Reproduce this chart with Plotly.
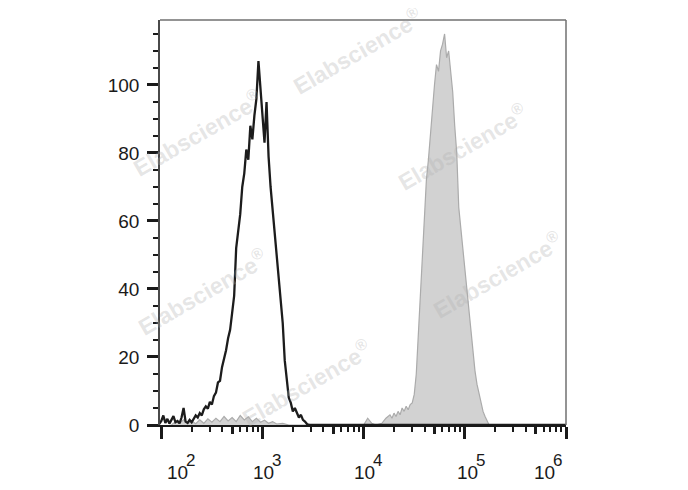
import plotly.graph_objects as go

# ---- data (log10 of fluorescence intensity, count) ----
black_log = [1.98, 2.00, 2.02, 2.04, 2.06, 2.08, 2.10, 2.12, 2.14, 2.16, 2.18, 2.20, 2.22, 2.24, 2.26,
             2.28, 2.30, 2.32, 2.34, 2.36, 2.38, 2.40, 2.42, 2.44, 2.46, 2.48, 2.50, 2.52, 2.54, 2.56,
             2.58, 2.60, 2.62, 2.64, 2.66, 2.68, 2.70, 2.72, 2.74, 2.76, 2.78, 2.80, 2.82, 2.84, 2.86,
             2.88, 2.90, 2.92, 2.94, 2.96, 2.98, 3.00, 3.02, 3.04, 3.06, 3.08, 3.10, 3.12, 3.14, 3.16,
             3.18, 3.20, 3.22, 3.24, 3.26, 3.28, 3.30, 3.32, 3.34, 3.36, 3.38, 3.40, 3.42, 3.44, 3.46,
             6.00]
black_cnt = [0.3, 1.2, 2.8, 0.6, 1.8, 0.4, 1.5, 2.6, 0.8, 1.2, 0.5, 2.2, 5.0, 1.0, 0.6,
             1.5, 0.8, 2.0, 2.8, 2.2, 3.5, 2.8, 4.6, 5.5, 4.8, 6.8, 6.0, 8.5, 9.5, 12.5,
             13.0, 17.0, 19.5, 22.0, 25.5, 28.0, 33.0, 38.0, 52.0, 57.0, 62.0, 70.0, 74.0, 81.0, 78.0,
             88.0, 84.0, 91.0, 96.0, 107.0, 98.0, 91.0, 83.0, 95.0, 79.0, 70.0, 63.0, 56.0, 50.0, 44.0,
             37.0, 30.0, 19.0, 13.0, 8.0, 6.5, 4.0, 5.0, 3.5, 2.2, 3.0, 1.5, 1.0, 0.3, 0.0,
             0.0]

gray_log = [2.10, 2.14, 2.18, 2.22, 2.26, 2.30, 2.34, 2.38, 2.42, 2.46, 2.50, 2.54, 2.58, 2.62, 2.66,
            2.70, 2.74, 2.78, 2.82, 2.86, 2.90, 2.94, 2.98, 3.02, 3.06, 3.10, 3.14, 3.20, 3.26, 4.00,
            4.04, 4.08, 4.12, 4.18, 4.22, 4.26, 4.28, 4.30, 4.32, 4.34, 4.36, 4.38, 4.40, 4.42, 4.44,
            4.46, 4.48, 4.50, 4.52, 4.54, 4.56, 4.58, 4.60, 4.62, 4.64, 4.66, 4.68, 4.70, 4.72, 4.74,
            4.76, 4.78, 4.80, 4.82, 4.84, 4.86, 4.88, 4.90, 4.92, 4.94, 4.96, 4.98, 5.00, 5.02, 5.04,
            5.06, 5.08, 5.10, 5.12, 5.14, 5.16, 5.18, 5.20, 5.22, 5.24, 6.00]
gray_cnt = [0.0, 1.0, 0.5, 1.5, 0.5, 1.2, 0.4, 1.5, 0.5, 1.8, 0.8, 2.0, 1.0, 2.5, 1.2,
            2.2, 1.0, 2.8, 1.5, 2.4, 1.0, 2.0, 0.8, 1.4, 0.5, 1.0, 0.3, 0.5, 0.0, 0.0,
            2.0, 0.5, 0.0, 0.5, 2.0, 3.0, 2.0, 3.5, 2.5, 4.0, 3.0, 5.0, 4.0, 5.5, 4.5,
            6.0, 6.5, 9.0, 15.0, 27.0, 38.0, 48.0, 60.0, 72.0, 78.0, 86.0, 92.0, 100.0, 106.0, 104.0,
            110.0, 112.0, 115.0, 108.0, 110.0, 104.0, 98.0, 88.0, 80.0, 64.0, 58.0, 50.0, 45.0, 38.0, 32.0,
            27.0, 20.0, 16.0, 12.0, 9.0, 6.0, 4.0, 2.5, 1.0, 0.0, 0.0]

decades = [2, 3, 4, 5, 6]
y_major = [0, 20, 40, 60, 80, 100]

FONT = "Liberation Sans, Arial, sans-serif"

fig = go.Figure()
fig.add_trace(go.Scatter(
    x=[10 ** v for v in gray_log], y=gray_cnt, mode="lines",
    line=dict(color="#ababab", width=1.2), fill="tozeroy", fillcolor="#d2d2d2",
    showlegend=False, hoverinfo="skip"))
fig.add_trace(go.Scatter(
    x=[10 ** v for v in black_log], y=black_cnt, mode="lines",
    line=dict(color="#1c1c1c", width=2.3), showlegend=False, hoverinfo="skip"))
# helper trace so the overlay axis (x5 ticks) renders
fig.add_trace(go.Scatter(x=[1000], y=[0], xaxis="x2", mode="none",
                         showlegend=False, hoverinfo="skip"))

minor_vals = [m * 10 ** d for d in decades[:-1] for m in (2, 3, 4, 6, 7, 8, 9)]
five_vals = [5 * 10 ** d for d in decades[:-1]]

xr = [1.987, 6.0]
fig.update_layout(
    width=680, height=482,
    margin=dict(l=152, r=122, t=12, b=65),
    paper_bgcolor="white", plot_bgcolor="white",
    font=dict(family=FONT, color="#1a1a1a", size=18),
    xaxis=dict(type="log", range=xr, showgrid=False, zeroline=False,
               showline=True, linecolor="#1a1a1a", linewidth=2,
               ticks="outside", tickmode="array", tickvals=[10 ** d for d in decades],
               ticklen=12, tickwidth=3, tickcolor="#1a1a1a", showticklabels=False,
               minor=dict(tickmode="array", tickvals=minor_vals, ticks="outside",
                          ticklen=5, tickwidth=2, tickcolor="#1a1a1a", showgrid=False)),
    xaxis2=dict(type="log", range=xr, overlaying="x", anchor="y", side="bottom",
                showgrid=False, zeroline=False, showline=False,
                ticks="outside", tickmode="array", tickvals=five_vals,
                ticklen=8, tickwidth=3, tickcolor="#1a1a1a", showticklabels=False),
    yaxis=dict(range=[0, 119.1], showgrid=False, zeroline=False,
               showline=True, linecolor="#4a4a4a", linewidth=1.5,
               ticks="outside", tickmode="array", tickvals=y_major,
               ticklen=11, tickwidth=3, tickcolor="#1a1a1a",
               ticklabelstandoff=4, tickfont=dict(size=19, family=FONT, color="#1a1a1a"),
               minor=dict(dtick=5, tick0=0, ticks="outside", ticklen=5, tickwidth=2,
                          tickcolor="#1a1a1a", showgrid=False)),
)

# top and right frame lines
fig.add_shape(type="line", xref="paper", yref="paper", x0=0, x1=1, y0=1, y1=1,
              line=dict(color="#707070", width=1.5))
fig.add_shape(type="line", xref="paper", yref="paper", x0=1, x1=1, y0=0, y1=1,
              line=dict(color="#707070", width=1.5))

# x tick labels 10^n
base_shift = {2: 6, 3: -9, 4: -10, 5: -8, 6: -32}
for d in decades:
    fig.add_annotation(x=d, xref="x", y=0, yref="paper", text="10", showarrow=False,
                       xanchor="left", yanchor="top", xshift=base_shift[d] - 2, yshift=-35,
                       font=dict(size=19, family=FONT, color="#1a1a1a"))
    fig.add_annotation(x=d, xref="x", y=0, yref="paper", text=str(d), showarrow=False,
                       xanchor="left", yanchor="top", xshift=base_shift[d] + 17, yshift=-24,
                       font=dict(size=17, family=FONT, color="#1a1a1a"))

# watermarks (page pixel centres -> plot-area fractions)
wm_pos = [(357, 51), (197, 133), (462, 147), (497, 275), (202, 292), (306, 383)]
for (px, py) in wm_pos:
    fig.add_annotation(x=(px - 160) / 406, y=(425 - py) / 405, xref="paper", yref="paper",
                       text="Elabscience<sup>®</sup>", showarrow=False, textangle=-30,
                       xanchor="center", yanchor="middle",
                       font=dict(size=23, family=FONT, color="rgba(175,175,175,0.32)",
                                 weight="bold"))

fig.write_html("out.html")
